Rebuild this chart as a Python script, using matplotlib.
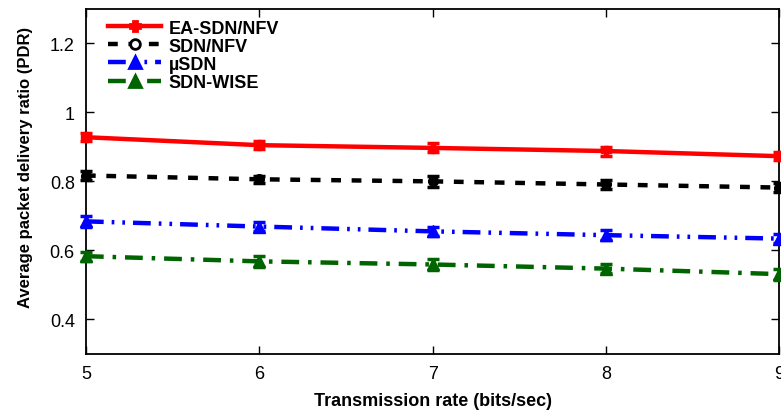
import matplotlib
matplotlib.use("Agg")
import matplotlib.pyplot as plt
from matplotlib.lines import Line2D

# Transmission rate values (bits/sec)
rates = [5, 6, 7, 8, 9]

# Average packet delivery ratio per scheme
ea_sdn_nfv = [0.928, 0.905, 0.897, 0.888, 0.873]
sdn_nfv = [0.817, 0.806, 0.800, 0.791, 0.782]
mu_sdn = [0.684, 0.669, 0.655, 0.644, 0.634]
sdn_wise = [0.583, 0.568, 0.559, 0.547, 0.531]

# Error margins
ea_err = [0.012, 0.012, 0.013, 0.013, 0.012]
sdn_err = [0.012, 0.010, 0.015, 0.013, 0.013]
mu_err = [0.015, 0.014, 0.014, 0.014, 0.013]
wise_err = [0.013, 0.015, 0.016, 0.014, 0.016]

labels = ["EA-SDN/NFV", "SDN/NFV", "\u00b5SDN", "SDN-WISE"]

plt.rcParams["font.family"] = ["Liberation Sans", "DejaVu Sans"]

fig = plt.figure(figsize=(7.81, 4.14), dpi=100)
ax = fig.add_axes([0.110, 0.143, 0.888, 0.833])

series = [
    (ea_sdn_nfv, ea_err, "#ff0000", "-", "P", 7, labels[0]),
    (sdn_nfv, sdn_err, "#000000", (0, (2.2, 2.4)), "o", 7, labels[1]),
    (mu_sdn, mu_err, "#0000ff", (0, (4, 1.8, 0.6, 1.8, 0.6, 1.8)), "^", 8, labels[2]),
    (sdn_wise, wise_err, "#006400", (0, (4, 2, 0.8, 2)), "^", 9, labels[3]),
]

handles = []
for vals, err, col, ls, mk, ms, lab in series:
    ax.plot(rates, vals, color=col, linestyle=ls, linewidth=3.2, zorder=3,
            clip_on=False)
    ax.errorbar(rates, vals, yerr=err, fmt=mk, color=col, markersize=ms,
                elinewidth=2.5, capsize=4, capthick=2.5, zorder=4,
                clip_on=False)
    mfc = "white" if mk == "o" else col
    handles.append(Line2D([], [], color=col, linestyle=ls, linewidth=3.2,
                          marker=mk, markersize=ms, markerfacecolor=mfc,
                          markeredgewidth=2))

ax.set_xlim(5, 9)
ax.set_ylim(0.3, 1.3)
ax.set_xticks([5, 6, 7, 8, 9])
ax.set_yticks([0.4, 0.6, 0.8, 1.0, 1.2])
ax.set_yticklabels(["0.4", "0.6", "0.8", "1", "1.2"])
ax.tick_params(direction="in", top=True, right=True, length=6, width=1,
               labelsize=13)
ax.tick_params(axis="y", pad=8)
ax.tick_params(axis="x", pad=8)
for sp in ax.spines.values():
    sp.set_linewidth(1.3)

ax.set_xlabel("Transmission rate (bits/sec)", labelpad=7,
              family=["Liberation Sans", "DejaVu Sans"], weight="bold", size=13)
ax.set_ylabel("Average packet delivery ratio (PDR)",
              family=["Liberation Sans", "DejaVu Sans"], weight="bold", size=12)
ax.yaxis.set_label_coords(-0.077, 0.543)

leg = ax.legend(handles, labels, loc="upper left", frameon=False,
                handlelength=2.9, handletextpad=0.45, labelspacing=0.06,
                borderaxespad=0.0, bbox_to_anchor=(0.022, 0.99),
                prop=dict(family="Liberation Sans", weight="bold", size=13))

fig.savefig("out.png", dpi=100)
